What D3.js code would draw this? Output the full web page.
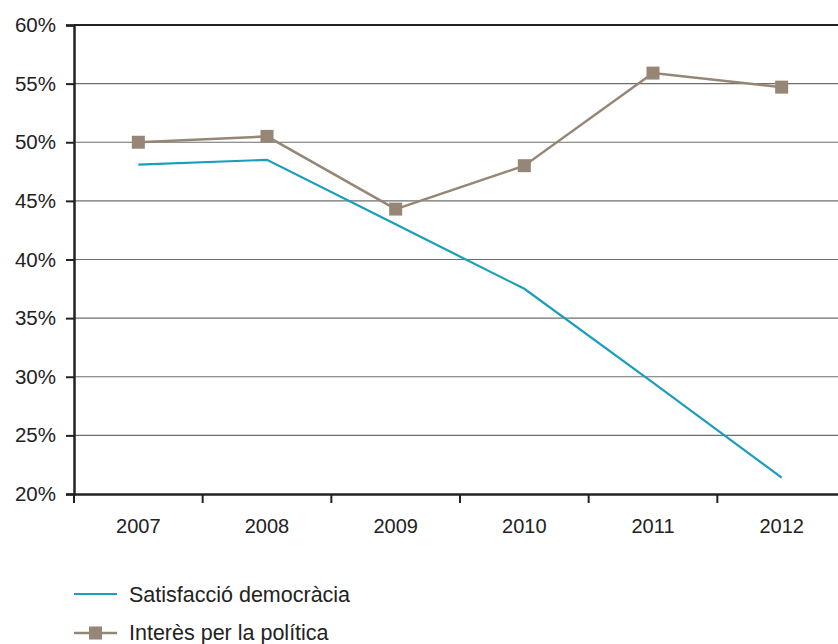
<!DOCTYPE html>
<html><head><meta charset="utf-8">
<script src="https://cdn.jsdelivr.net/npm/d3@7"></script>
<style>body{margin:0;background:#fff}svg{display:block}text{font-family:"Liberation Sans",Arial,sans-serif}</style>
</head><body><svg id="c" width="838" height="644"></svg>
<script>
const years = ["2007","2008","2009","2010","2011","2012"];
const satisfaccio = [48.1, 48.5, 43.0, 37.5, 29.5, 21.4];
const interes = [50.0, 50.5, 44.3, 48.0, 55.9, 54.7];
const yTicks = [20,25,30,35,40,45,50,55,60];
const seriesNames = ["Satisfacció democràcia","Interès per la política"];
const colors = ["#1b9dbd","#968676"];

const svg = d3.select("#c");
const L = 74, R = 846, T = 25, B = 494;
const x = d3.scaleBand().domain(years).range([L, R]);
const y = d3.scaleLinear().domain([20, 60]).range([B, T]);

// grid
svg.append("g").selectAll("line").data(yTicks.filter(d => d > 20)).join("line")
  .attr("x1", L).attr("x2", 838).attr("y1", d => y(d)).attr("y2", d => y(d))
  .attr("stroke", d => d === 60 ? "#222" : "#6e6e6e").attr("stroke-width", d => d === 60 ? 2 : 1.2);

// y axis
const ya = svg.append("g").attr("transform", `translate(${L},0)`)
  .call(d3.axisLeft(y).tickValues(yTicks).tickFormat(d => d + "%").tickSize(8).tickPadding(10));
ya.select(".domain").attr("stroke", "#222").attr("stroke-width", 2.5);
ya.selectAll(".tick line").attr("stroke", "#222").attr("stroke-width", 2);
ya.selectAll("text").attr("font-size", 20.5).attr("fill", "#222").attr("font-family", "Liberation Sans, Arial");

// x axis
const xa = svg.append("g").attr("transform", `translate(0,${B})`)
  .call(d3.axisBottom(x).tickSize(0).tickPadding(22));
xa.select(".domain").attr("stroke", "#222").attr("stroke-width", 2.5);
xa.selectAll("text").attr("font-size", 20).attr("fill", "#222").attr("font-family", "Liberation Sans, Arial")
  .attr("y", 39).attr("dy", 0);
xa.append("g").selectAll("line").data(years).join("line")
  .attr("x1", d => x(d)).attr("x2", d => x(d)).attr("y1", 0).attr("y2", 9)
  .attr("stroke", "#222").attr("stroke-width", 2);

const cx = d => x(d) + x.bandwidth() / 2;
const line = d3.line().x((d, i) => cx(years[i])).y(d => y(d));

svg.append("path").datum(interes).attr("d", line).attr("fill", "none")
  .attr("stroke", colors[1]).attr("stroke-width", 2.5);
svg.append("g").selectAll("rect").data(interes).join("rect")
  .attr("x", (d, i) => cx(years[i]) - 6.5).attr("y", d => y(d) - 6.5)
  .attr("width", 13).attr("height", 13).attr("fill", colors[1]);

svg.append("path").datum(satisfaccio).attr("d", line).attr("fill", "none")
  .attr("stroke", colors[0]).attr("stroke-width", 2.2);

// legend
const lg = svg.append("g");
lg.append("line").attr("x1", 74).attr("x2", 117).attr("y1", 594).attr("y2", 594)
  .attr("stroke", colors[0]).attr("stroke-width", 2.2);
lg.append("text").attr("x", 129).attr("y", 602).attr("font-size", 21.5).attr("fill", "#222").text(seriesNames[0]);
lg.append("line").attr("x1", 74).attr("x2", 117).attr("y1", 633).attr("y2", 633)
  .attr("stroke", colors[1]).attr("stroke-width", 2.5);
lg.append("rect").attr("x", 89).attr("y", 626.5).attr("width", 13).attr("height", 13).attr("fill", colors[1]);
lg.append("text").attr("x", 129).attr("y", 640).attr("font-size", 21.5).attr("fill", "#222").text(seriesNames[1]);
</script></body></html>
